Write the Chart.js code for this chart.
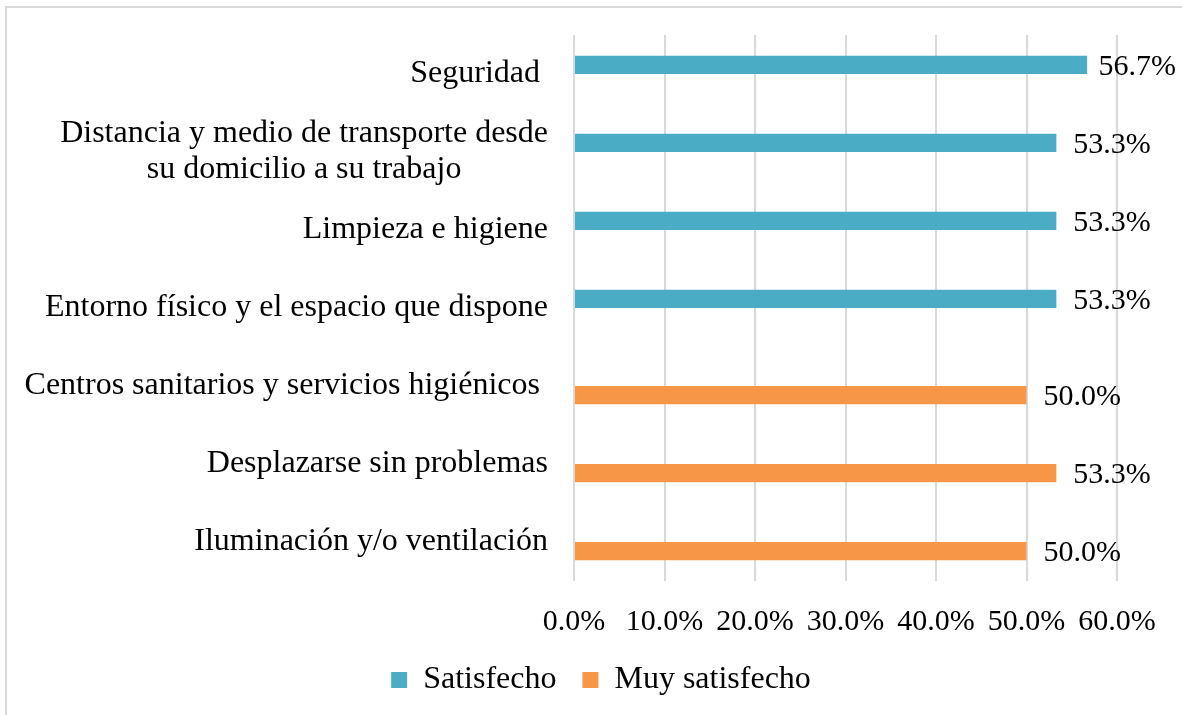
<!DOCTYPE html>
<html>
<head>
<meta charset="utf-8">
<script src="https://cdn.jsdelivr.net/npm/chart.js@4.4.1/dist/chart.umd.min.js"></script>
<style>
  body { margin: 0; background: #fff; }
  #wrap { position: relative; width: 1182px; height: 715px; overflow: hidden; }
  #frame { position: absolute; left: 5px; top: 6px; width: 1300px; height: 800px;
           border-left: 2px solid #d9d9d9; border-top: 2px solid #d9d9d9; }
  #myChart { position: absolute; left: 0; top: 0; }
</style>
</head>
<body>
<div id="wrap">
  <div id="frame"></div>
  <canvas id="myChart" width="1182" height="715"></canvas>
</div>
<script>
// categories, top to bottom
var categories = [
  "Seguridad ",
  ["Distancia y medio de transporte desde", "su domicilio a su trabajo"],
  "Limpieza e higiene",
  "Entorno físico y el espacio que dispone",
  "Centros sanitarios y servicios higiénicos ",
  "Desplazarse sin problemas",
  "Iluminación y/o ventilación"
];
var seriesNames = ["Satisfecho", "Muy satisfecho"];
var satisfecho = [56.7, 53.3, 53.3, 53.3, null, null, null];
var muySatisfecho = [null, null, null, null, 50.0, 53.3, 50.0];
var xTicks = [0, 10, 20, 30, 40, 50, 60];

var serif = "'Liberation Serif', 'Times New Roman', serif";
var labelSize = 32;   // category labels and legend
var numberSize = 30;  // axis ticks and bar values

// y labels drawn by hand so the two-line label is centred like the original
var categoryLabels = {
  id: 'categoryLabels',
  afterDraw: function(chart) {
    var ctx = chart.ctx;
    var yScale = chart.scales.y;
    var right = chart.chartArea.left - 26;
    var lineH = 36;
    ctx.save();
    ctx.font = labelSize + 'px ' + serif;
    ctx.fillStyle = '#000';
    ctx.textAlign = 'center';
    ctx.textBaseline = 'middle';
    categories.forEach(function(label, i) {
      var lines = [].concat(label);
      var w = Math.max.apply(null, lines.map(function(l) { return ctx.measureText(l).width; }));
      var cy = yScale.getPixelForValue(i);
      var top = cy - (lines.length - 1) * lineH / 2;
      lines.forEach(function(l, k) {
        ctx.fillText(l, right - w / 2, top + k * lineH);
      });
    });
    ctx.restore();
  }
};

// value labels at the end of each bar, pulled back if they would run off the edge
var valueLabels = {
  id: 'valueLabels',
  afterDatasetsDraw: function(chart) {
    var ctx = chart.ctx;
    ctx.save();
    ctx.font = numberSize + 'px ' + serif;
    ctx.fillStyle = '#000';
    ctx.textAlign = 'left';
    ctx.textBaseline = 'middle';
    chart.data.datasets.forEach(function(ds, di) {
      var meta = chart.getDatasetMeta(di);
      meta.data.forEach(function(bar, i) {
        var v = ds.data[i];
        if (v == null) return;
        var txt = v.toFixed(1) + '%';
        var x = Math.min(bar.x + 17, chart.width - 6 - ctx.measureText(txt).width);
        ctx.fillText(txt, x, bar.y + 2);
      });
    });
    ctx.restore();
  }
};

var ctx = document.getElementById('myChart').getContext('2d');

var data = {
  labels: categories,
  datasets: [{
    label: seriesNames[0],
    data: satisfecho,
    backgroundColor: '#4BACC6'
  }, {
    label: seriesNames[1],
    data: muySatisfecho,
    backgroundColor: '#F79646'
  }]
};

var options = {
  indexAxis: 'y',
  responsive: false,
  animation: false,
  layout: { padding: { top: 35, left: 20, right: 0, bottom: 9 } },
  datasets: { bar: { categoryPercentage: 0.47, barPercentage: 1.0 } },
  scales: {
    x: {
      min: 0,
      max: 60,
      afterFit: function(scale) {
        scale.paddingRight = 65;
        scale.height = scale.height - 25;
      },
      afterBuildTicks: function(scale) {
        scale.ticks = xTicks.map(function(v) { return { value: v }; });
      },
      grid: { color: '#d9d9d9', lineWidth: 2, drawTicks: false },
      border: { display: false },
      ticks: {
        padding: 23,
        color: '#000',
        font: { family: serif, size: numberSize },
        callback: function(v) { return Number(v).toFixed(1) + '%'; }
      }
    },
    y: {
      afterFit: function(scale) { scale.width = 554; },
      grid: { display: false },
      border: { display: false },
      ticks: { display: false }
    }
  },
  plugins: {
    tooltip: { enabled: false },
    legend: {
      position: 'bottom',
      labels: {
        boxWidth: 16,
        boxHeight: 16,
        padding: 26,
        color: '#000',
        font: { family: serif, size: labelSize }
      }
    }
  }
};

var myChart = new Chart(ctx, {
  type: 'bar',
  data: data,
  options: options,
  plugins: [categoryLabels, valueLabels]
});
</script>
</body>
</html>
